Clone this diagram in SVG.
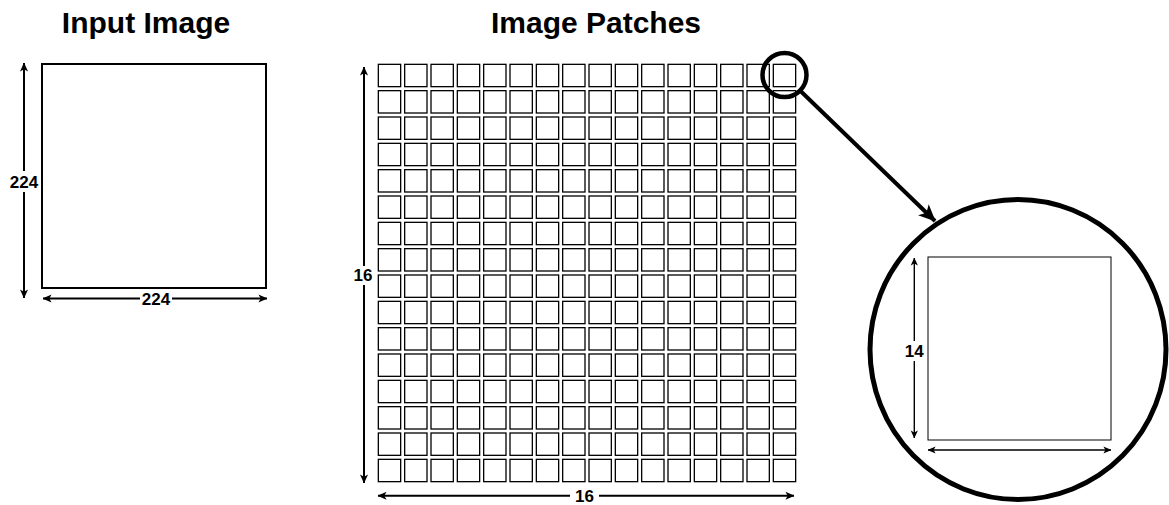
<svg xmlns="http://www.w3.org/2000/svg" xmlns:xlink="http://www.w3.org/1999/xlink" width="1169" height="505" viewBox="0 0 1169 505">
<style>
.title{font-family:"Liberation Sans",Arial,sans-serif;font-weight:bold;font-size:30px;fill:#000;text-anchor:middle}
.lbl{font-family:"Liberation Sans",Arial,sans-serif;font-weight:bold;font-size:17px;fill:#000;text-anchor:middle;dominant-baseline:central}
.cell{fill:#fff;stroke:#000;stroke-width:1.3}
.dim{fill:none;stroke:#000;stroke-width:2;marker-start:url(#ah);marker-end:url(#ah)}
.dimthin{fill:none;stroke:#000;stroke-width:1.4;marker-start:url(#ahs);marker-end:url(#ahs)}
</style>
<defs>
<marker id="ah" viewBox="0 0 10 10" refX="9.5" refY="5" markerWidth="9" markerHeight="9" markerUnits="userSpaceOnUse" orient="auto-start-reverse"><path d="M0,0.5 L10,5 L0,9.5 L2.5,5 z" fill="#000"/></marker>
<marker id="ahs" viewBox="0 0 10 10" refX="9.5" refY="5" markerWidth="8" markerHeight="8" markerUnits="userSpaceOnUse" orient="auto-start-reverse"><path d="M0,0.5 L10,5 L0,9.5 L2.5,5 z" fill="#000"/></marker>
<marker id="ahb" viewBox="0 0 10 10" refX="9.5" refY="5" markerWidth="17" markerHeight="17" markerUnits="userSpaceOnUse" orient="auto"><path d="M0,0.5 L10,5 L0,9.5 L2.5,5 z" fill="#000"/></marker>
<g id="row">
<rect class="cell" x="378.33" y="0" width="22.33" height="22.33"/>
<rect class="cell" x="404.67" y="0" width="22.33" height="22.33"/>
<rect class="cell" x="431" y="0" width="22.33" height="22.33"/>
<rect class="cell" x="457.33" y="0" width="22.33" height="22.33"/>
<rect class="cell" x="483.67" y="0" width="22.33" height="22.33"/>
<rect class="cell" x="510" y="0" width="22.33" height="22.33"/>
<rect class="cell" x="536.33" y="0" width="22.33" height="22.33"/>
<rect class="cell" x="562.67" y="0" width="22.33" height="22.33"/>
<rect class="cell" x="589" y="0" width="22.33" height="22.33"/>
<rect class="cell" x="615.33" y="0" width="22.33" height="22.33"/>
<rect class="cell" x="641.67" y="0" width="22.33" height="22.33"/>
<rect class="cell" x="668" y="0" width="22.33" height="22.33"/>
<rect class="cell" x="694.33" y="0" width="22.33" height="22.33"/>
<rect class="cell" x="720.67" y="0" width="22.33" height="22.33"/>
<rect class="cell" x="747" y="0" width="22.33" height="22.33"/>
<rect class="cell" x="773.33" y="0" width="22.33" height="22.33"/>
</g>
</defs>
<rect width="1169" height="505" fill="#fff"/>

<g id="title-input"><text class="title" x="146" y="33">Input Image</text></g>
<g id="title-patches"><text class="title" x="596" y="33">Image Patches</text></g>

<g id="input-image">
<rect x="42" y="64" width="224" height="224" fill="#fff" stroke="#000" stroke-width="2"/>
</g>

<g id="patch-grid">
<use xlink:href="#row" y="64.33"/>
<use xlink:href="#row" y="90.67"/>
<use xlink:href="#row" y="117"/>
<use xlink:href="#row" y="143.33"/>
<use xlink:href="#row" y="169.67"/>
<use xlink:href="#row" y="196"/>
<use xlink:href="#row" y="222.33"/>
<use xlink:href="#row" y="248.67"/>
<use xlink:href="#row" y="275"/>
<use xlink:href="#row" y="301.33"/>
<use xlink:href="#row" y="327.67"/>
<use xlink:href="#row" y="354"/>
<use xlink:href="#row" y="380.33"/>
<use xlink:href="#row" y="406.67"/>
<use xlink:href="#row" y="433"/>
<use xlink:href="#row" y="459.33"/>
</g>

<g id="magnified-view">
<ellipse cx="1018" cy="349.5" rx="148" ry="150" fill="#fff" stroke="#000" stroke-width="5"/>
<rect x="928" y="257" width="183" height="183" fill="#fff" stroke="#000" stroke-width="1"/>
</g>

<g id="connectors">
<line class="dim" x1="24" y1="63" x2="24" y2="298"/>
<line class="dim" x1="43" y1="298.5" x2="267" y2="298.5"/>
<line class="dim" x1="364" y1="67" x2="364" y2="483"/>
<line class="dim" x1="378" y1="495.7" x2="794" y2="495.7"/>
<line class="dimthin" x1="914.3" y1="258" x2="914.3" y2="438"/>
<line class="dimthin" x1="928" y1="450" x2="1111" y2="450"/>
<circle cx="784.5" cy="75" r="22" fill="none" stroke="#000" stroke-width="4.5"/>
<line x1="800" y1="90.5" x2="935" y2="221" stroke="#000" stroke-width="4" marker-end="url(#ahb)"/>
</g>

<g id="labels">
<rect x="9" y="171" width="30" height="21" fill="#fff"/>
<text class="lbl" x="24" y="182">224</text>
<rect x="140" y="290" width="32" height="17" fill="#fff"/>
<text class="lbl" x="156" y="299">224</text>
<rect x="352" y="266" width="24" height="19" fill="#fff"/>
<text class="lbl" x="363" y="275">16</text>
<rect x="570" y="487" width="29" height="17" fill="#fff"/>
<text class="lbl" x="584.5" y="496">16</text>
<rect x="904" y="341" width="21" height="20" fill="#fff"/>
<text class="lbl" x="914.3" y="351">14</text>
</g>
</svg>
